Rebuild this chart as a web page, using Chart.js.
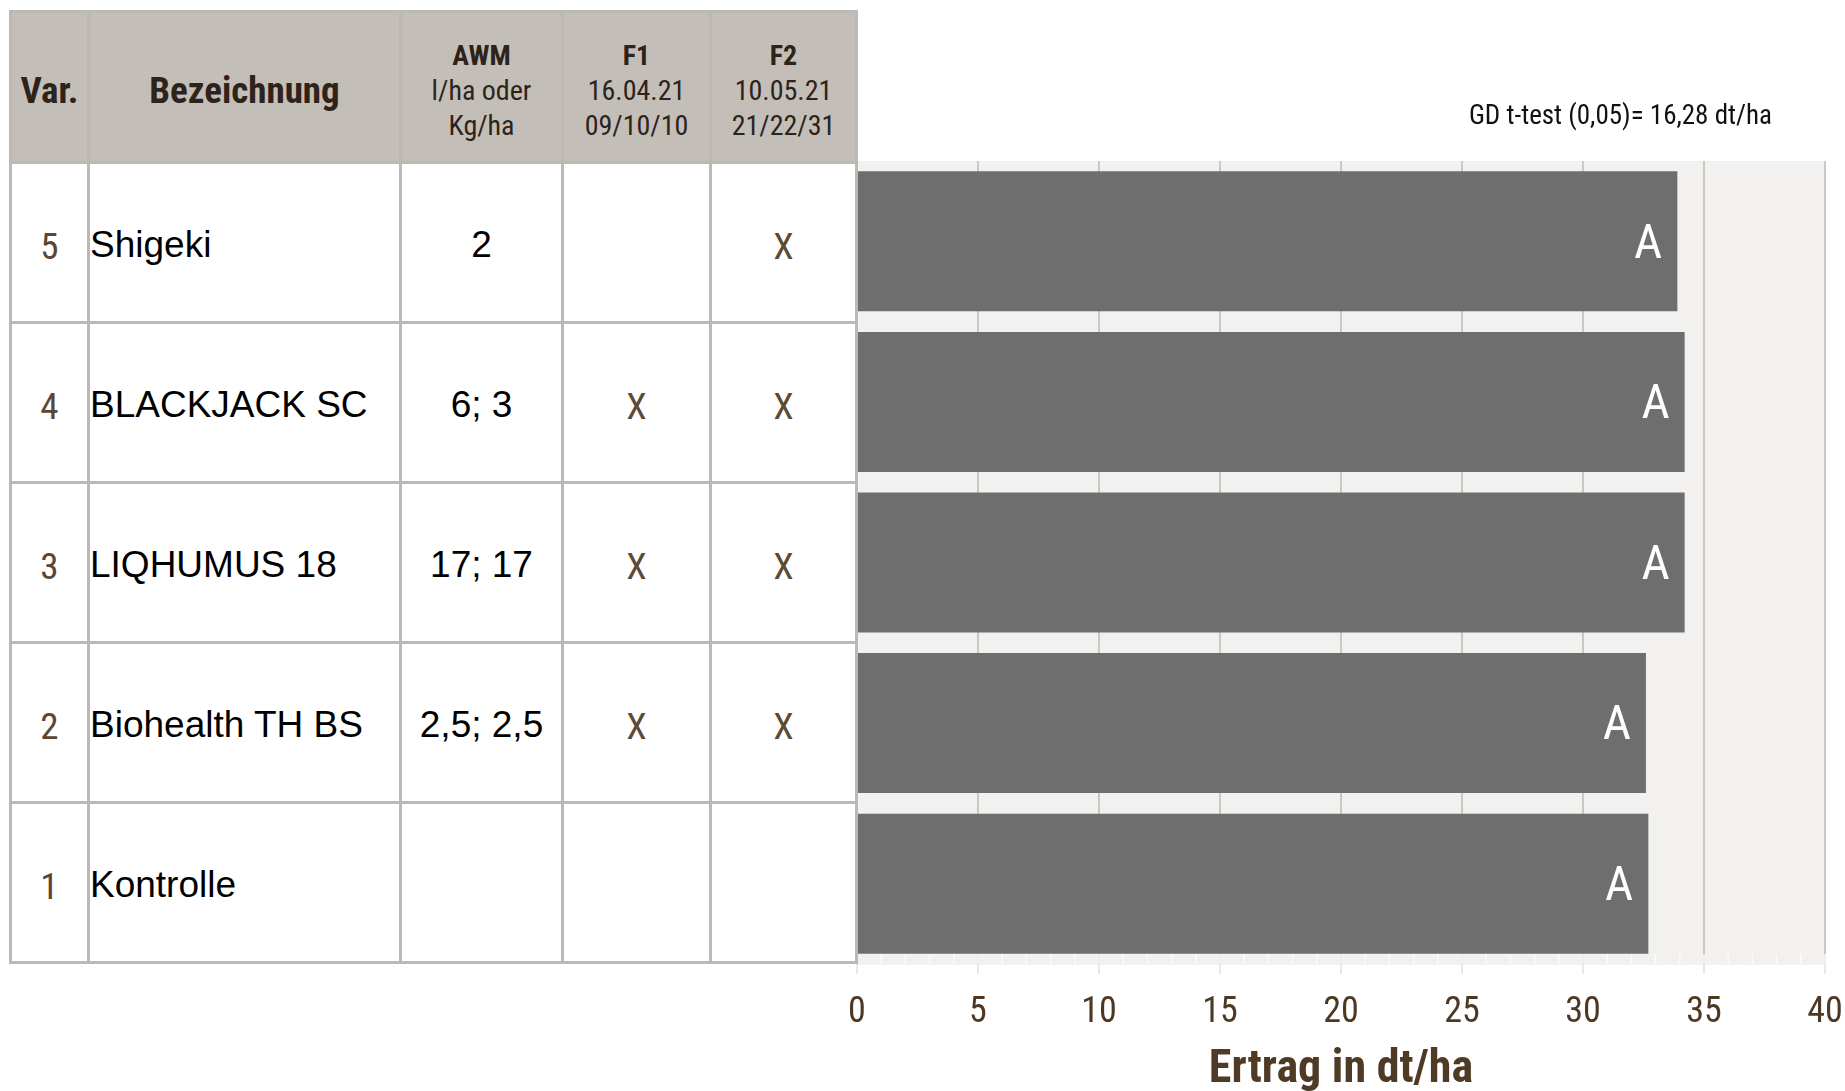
<!DOCTYPE html>
<html lang="de">
<head>
    <meta charset="UTF-8">
    <title>Ertrag in dt/ha</title>
    <script src="https://cdn.jsdelivr.net/npm/chart.js"></script>
    <style>
        body { margin: 0; background: #fff; width: 1845px; height: 1091px; overflow: hidden; position: relative; }
        #chartBox { position: absolute; left: 0; top: 0; width: 1845px; height: 1091px; }
        /* table drawn as a grid, lines come from the gaps */
        #tbl {
            position: absolute; left: 9px; top: 10px; z-index: 2;
            display: grid;
            grid-template-columns: 75px 309px 159px 145px 143px;
            grid-template-rows: 148px repeat(5, 157px);
            gap: 3px; padding: 3px;
            background: #bcb8b4;
        }
        #tbl div { background: #fff; display: flex; align-items: center; justify-content: center; white-space: nowrap; padding-top: 5px; box-sizing: border-box; }
        #tbl .hd { background: #c4beb9; color: #2d2319; font-family: 'Roboto Condensed', sans-serif; flex-direction: column; padding-top: 6px; }
        #tbl .hd.big { font-weight: bold; font-size: 37px; }
        #tbl .hd.small { font-size: 28px; line-height: 35px; }
        #tbl .hd.small b { font-size: 28px; }
        #tbl .nr { font-family: 'Roboto Condensed', sans-serif; font-size: 37px; color: #5a4632; padding-top: 7px; }
        #tbl .name { justify-content: flex-start; font-family: 'Liberation Sans', Arial, sans-serif; font-size: 37px; color: #000; }
        #tbl .awm { font-family: 'Liberation Sans', Arial, sans-serif; font-size: 37px; color: #000; }
        #tbl .x { font-family: 'Roboto Condensed', sans-serif; font-size: 37px; color: #5c4a36; padding-top: 7px; }
    </style>
</head>
<body>
    <div id="tbl"></div>
    <div id="chartBox"><canvas id="ertragChart" width="1845" height="1091"></canvas></div>

    <script>
        // table data, rows from top to bottom
        const varNr = ['5', '4', '3', '2', '1'];
        const names = ['Shigeki', 'BLACKJACK SC', 'LIQHUMUS 18', 'Biohealth TH BS', 'Kontrolle'];
        const awm = ['2', '6; 3', '17; 17', '2,5; 2,5', ''];
        const f1 = ['', 'X', 'X', 'X', ''];
        const f2 = ['X', 'X', 'X', 'X', ''];

        // header lines
        const headVar = 'Var.';
        const headName = 'Bezeichnung';
        const headAwm = ['AWM', 'l/ha oder', 'Kg/ha'];
        const headF1 = ['F1', '16.04.21', '09/10/10'];
        const headF2 = ['F2', '10.05.21', '21/22/31'];

        // yield values (dt/ha) and the letters of the t-test
        const ertrag = [33.9, 34.2, 34.2, 32.6, 32.7];
        const letters = ['A', 'A', 'A', 'A', 'A'];

        // x axis
        const xMin = 0;
        const xMax = 40;
        const xStep = 5;
        const xTitle = 'Ertrag in dt/ha';
        const gdText = 'GD t-test (0,05)= 16,28 dt/ha';

        const narrow = "'Roboto Condensed', sans-serif";

        // build the table
        const tbl = document.getElementById('tbl');
        function cell(cls, html) {
            const d = document.createElement('div');
            d.className = cls;
            d.innerHTML = html;
            tbl.appendChild(d);
        }
        function multi(lines) {
            return lines.map((t, i) => i === 0 ? '<b>' + t + '</b>' : '<span>' + t + '</span>').join('');
        }
        cell('hd big', headVar);
        cell('hd big', headName);
        cell('hd small', multi(headAwm));
        cell('hd small', multi(headF1));
        cell('hd small', multi(headF2));
        for (let i = 0; i < names.length; i++) {
            cell('nr', varNr[i]);
            cell('name', names[i]);
            cell('awm', awm[i]);
            cell('x', f1[i]);
            cell('x', f2[i]);
        }

        // grey plot background
        const plotBg = {
            id: 'plotBg',
            beforeDraw(chart) {
                const { ctx, chartArea: a } = chart;
                ctx.save();
                ctx.fillStyle = '#f2f1ef';
                ctx.fillRect(a.left, a.top, a.right - a.left, a.bottom - a.top + 1);
                ctx.restore();
            }
        };

        // small unit marks along the bottom edge
        const minorTicks = {
            id: 'minorTicks',
            afterDatasetsDraw(chart) {
                const { ctx, chartArea: a, scales: { x } } = chart;
                ctx.save();
                ctx.strokeStyle = '#fbfbfa';
                ctx.lineWidth = 1.5;
                for (let v = xMin; v <= xMax; v++) {
                    const px = x.getPixelForValue(v);
                    ctx.beginPath();
                    ctx.moveTo(px, a.bottom - 10);
                    ctx.lineTo(px, a.bottom);
                    ctx.stroke();
                }
                ctx.restore();
            }
        };

        // letters inside the bars + GD note
        const barLetters = {
            id: 'barLetters',
            afterDatasetsDraw(chart) {
                const { ctx, chartArea: a } = chart;
                const meta = chart.getDatasetMeta(0);
                ctx.save();
                ctx.fillStyle = '#ffffff';
                ctx.font = '49px ' + narrow;
                ctx.textAlign = 'right';
                ctx.textBaseline = 'middle';
                meta.data.forEach((bar, i) => {
                    ctx.fillText(letters[i], bar.x - 15, bar.y + 4);
                });
                ctx.fillStyle = '#111111';
                ctx.font = '27px ' + narrow;
                ctx.fillText(gdText, a.right - 53, a.top - 44);
                ctx.restore();
            }
        };

        const ctx = document.getElementById('ertragChart').getContext('2d');
        new Chart(ctx, {
            type: 'bar',
            data: {
                labels: names,
                datasets: [{
                    data: ertrag,
                    backgroundColor: '#6e6e6e',
                    borderWidth: 0,
                    barPercentage: 0.872,
                    categoryPercentage: 1
                }]
            },
            options: {
                indexAxis: 'y',
                responsive: false,
                animation: false,
                devicePixelRatio: 1,
                layout: { padding: { left: 857, right: 20, top: 161, bottom: 0 } },
                plugins: {
                    legend: { display: false },
                    tooltip: { enabled: false }
                },
                scales: {
                    x: {
                        min: xMin,
                        max: xMax,
                        border: { display: false },
                        grid: {
                            color: '#cac8c5',
                            lineWidth: 2,
                            drawTicks: true,
                            tickLength: 10,
                            tickColor: '#e9e8e6'
                        },
                        ticks: {
                            stepSize: xStep,
                            padding: 17,
                            color: '#4d3823',
                            font: { family: narrow, size: 36 }
                        },
                        title: {
                            display: true,
                            text: xTitle,
                            color: '#4f3b25',
                            font: { family: narrow, size: 46, weight: 'bold', lineHeight: 0.9 },
                            padding: { top: 0, bottom: 0 }
                        },
                        afterFit(scale) {
                            scale.paddingLeft = 0;
                            scale.paddingRight = 0;
                            scale.height = 127;
                        }
                    },
                    y: { display: false }
                }
            },
            plugins: [plotBg, minorTicks, barLetters]
        });
    </script>
</body>
</html>
